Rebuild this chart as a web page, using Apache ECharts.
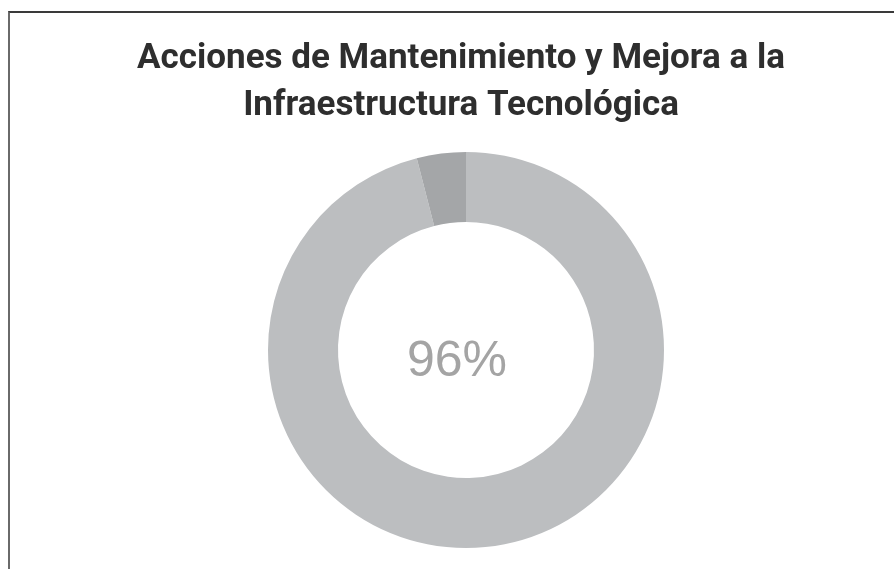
<!DOCTYPE html>
<html>
<head>
<meta charset="utf-8">
<script src="https://cdn.jsdelivr.net/npm/echarts@6/dist/echarts.min.js"></script>
<style>
  html, body { margin: 0; padding: 0; background: #fff; }
  .frame {
    position: absolute; left: 8px; top: 11px; width: 900px; height: 600px;
    border-top: 2px solid #3a3a3a; border-left: 2px solid #6a6a6a;
  }
  #main { position: absolute; left: 0; top: 0; width: 894px; height: 569px; }
</style>
</head>
<body>
<div class="frame"></div>
<div id="main"></div>
<script>
// chart data
const titleText = 'Acciones de Mantenimiento y Mejora a la\nInfraestructura Tecnológica'
const categories = ['Realizadas', 'Pendientes']
const values = [96, 4]
const colors = ['#bcbec0', '#a4a6a8']

const myChart = echarts.init(document.getElementById('main'))

const option = {
  animation: false,
  title: {
    text: titleText,
    left: 456,
    top: 31,
    textAlign: 'center',
    textStyle: {
      fontFamily: 'Roboto',
      fontWeight: 'bold',
      fontSize: 35,
      lineHeight: 47,
      color: '#2e2e2e'
    }
  },
  graphic: [
    {
      type: 'text',
      x: 457,
      y: 362,
      style: {
        text: values[0] + '%',
        align: 'center',
        verticalAlign: 'middle',
        fontFamily: 'Liberation Sans',
        fontSize: 50,
        fill: '#a4a4a4'
      }
    }
  ],
  series: [
    {
      type: 'pie',
      center: [466, 350],
      radius: [128, 198],
      startAngle: 90,
      clockwise: true,
      silent: true,
      label: { show: false },
      labelLine: { show: false },
      itemStyle: { borderWidth: 0 },
      data: categories.map((name, i) => ({
        name: name,
        value: values[i],
        itemStyle: { color: colors[i] }
      }))
    }
  ]
}
myChart.setOption(option)
</script>
</body>
</html>
